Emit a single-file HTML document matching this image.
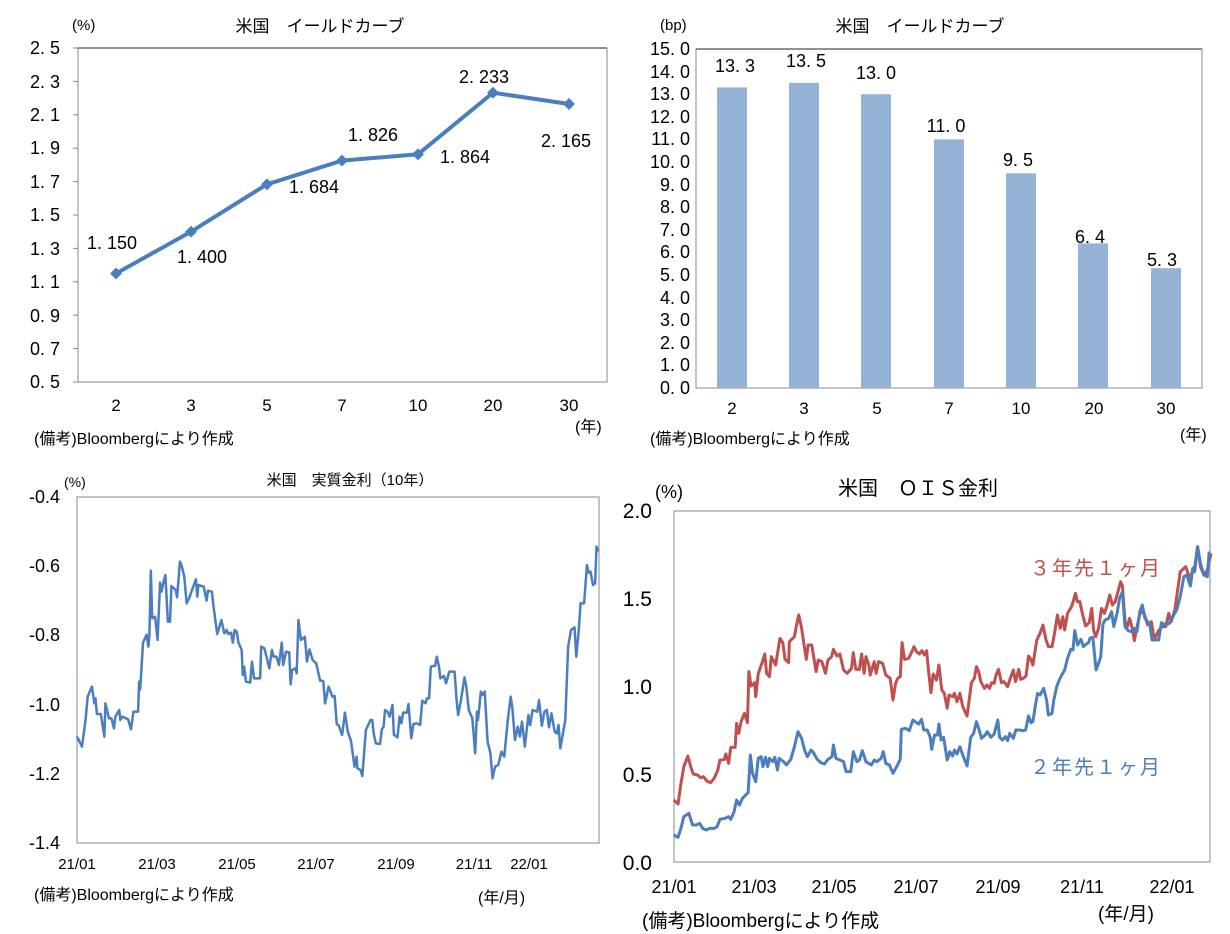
<!DOCTYPE html>
<html><head><meta charset="utf-8"><style>
html,body{margin:0;padding:0;background:#fff;}
svg{display:block;font-family:"Liberation Sans","Noto Sans CJK JP",sans-serif;}
</style></head><body>
<svg width="1230" height="934" viewBox="0 0 1230 934" xmlns="http://www.w3.org/2000/svg">
<!-- Chart 1 -->
<g font-size="18" fill="#000">
<text x="72" y="30" font-size="15">(%)</text>
<text x="320" y="32" font-size="17" text-anchor="middle">米国　イールドカーブ</text>
<rect x="78" y="48" width="529" height="334" fill="none" stroke="#888" stroke-width="1"/>
<line x1="78" y1="48" x2="607" y2="48" stroke="#222"/>
<g text-anchor="end" font-size="18">
<text x="60" y="54">2. 5</text><text x="60" y="88">2. 3</text><text x="60" y="121">2. 1</text>
<text x="60" y="154">1. 9</text><text x="60" y="188">1. 7</text><text x="60" y="221">1. 5</text>
<text x="60" y="255">1. 3</text><text x="60" y="288">1. 1</text><text x="60" y="322">0. 9</text>
<text x="60" y="355">0. 7</text><text x="60" y="388">0. 5</text>
</g>
<g stroke="#888"><line x1="73" y1="48" x2="78" y2="48"/><line x1="73" y1="81.4" x2="78" y2="81.4"/><line x1="73" y1="114.8" x2="78" y2="114.8"/><line x1="73" y1="148.2" x2="78" y2="148.2"/><line x1="73" y1="181.6" x2="78" y2="181.6"/><line x1="73" y1="215" x2="78" y2="215"/><line x1="73" y1="248.4" x2="78" y2="248.4"/><line x1="73" y1="281.8" x2="78" y2="281.8"/><line x1="73" y1="315.2" x2="78" y2="315.2"/><line x1="73" y1="348.6" x2="78" y2="348.6"/><line x1="73" y1="382" x2="78" y2="382"/></g>
<g text-anchor="middle" font-size="17">
<text x="116" y="411">2</text><text x="191" y="411">3</text><text x="267" y="411">5</text><text x="342" y="411">7</text><text x="418" y="411">10</text><text x="493" y="411">20</text><text x="569" y="411">30</text>
</g>
<text x="575" y="432" font-size="16">(年)</text>
<text x="34" y="444" font-size="16">(備考)Bloombergにより作成</text>
<polyline points="116,273.5 191,231.7 267,184.3 342,160.6 418,154.3 493,92.7 569,104" fill="none" stroke="#4a7ebf" stroke-width="4"/>
<g fill="#4a7ebf">
<rect x="-6" y="-6" width="12" height="12" transform="translate(116,273.5) rotate(45) scale(0.7)"/>
<rect x="-6" y="-6" width="12" height="12" transform="translate(191,231.7) rotate(45) scale(0.7)"/>
<rect x="-6" y="-6" width="12" height="12" transform="translate(267,184.3) rotate(45) scale(0.7)"/>
<rect x="-6" y="-6" width="12" height="12" transform="translate(342,160.6) rotate(45) scale(0.7)"/>
<rect x="-6" y="-6" width="12" height="12" transform="translate(418,154.3) rotate(45) scale(0.7)"/>
<rect x="-6" y="-6" width="12" height="12" transform="translate(493,92.7) rotate(45) scale(0.7)"/>
<rect x="-6" y="-6" width="12" height="12" transform="translate(569,104) rotate(45) scale(0.7)"/>
</g>
<g text-anchor="middle" font-size="18">
<text x="112" y="249">1. 150</text><text x="202" y="263">1. 400</text><text x="314" y="193">1. 684</text>
<text x="373" y="141">1. 826</text><text x="465" y="163">1. 864</text><text x="484" y="83">2. 233</text><text x="566" y="147">2. 165</text>
</g>
</g>

<!-- Chart 2 -->
<g font-size="18" fill="#000">
<text x="660" y="30" font-size="15">(bp)</text>
<text x="920" y="32" font-size="17" text-anchor="middle">米国　イールドカーブ</text>
<rect x="696" y="49" width="506" height="339" fill="none" stroke="#888"/>
<line x1="696" y1="49" x2="1202" y2="49" stroke="#222"/>
<g text-anchor="end" font-size="18" id="y2">
<text x="690" y="55">15. 0</text><text x="690" y="78">14. 0</text><text x="690" y="100">13. 0</text><text x="690" y="123">12. 0</text><text x="690" y="145">11. 0</text><text x="690" y="168">10. 0</text><text x="690" y="191">9. 0</text><text x="690" y="213">8. 0</text><text x="690" y="236">7. 0</text><text x="690" y="258">6. 0</text><text x="690" y="281">5. 0</text><text x="690" y="304">4. 0</text><text x="690" y="326">3. 0</text><text x="690" y="349">2. 0</text><text x="690" y="371">1. 0</text><text x="690" y="394">0. 0</text>
</g>
<g fill="#95b3d7">
<rect x="717" y="87.4" width="30" height="300.6"/>
<rect x="789" y="82.9" width="30" height="305.1"/>
<rect x="861" y="94.2" width="30" height="293.8"/>
<rect x="934" y="139.4" width="30" height="248.6"/>
<rect x="1006" y="173.3" width="30" height="214.7"/>
<rect x="1078" y="243.4" width="30" height="144.6"/>
<rect x="1151" y="268.2" width="30" height="119.8"/>
</g>
<g text-anchor="middle" font-size="18">
<text x="735" y="72">13. 3</text><text x="806" y="67">13. 5</text><text x="876" y="79">13. 0</text><text x="946" y="132">11. 0</text><text x="1018" y="166">9. 5</text><text x="1090" y="243">6. 4</text><text x="1162" y="266">5. 3</text>
</g>
<g text-anchor="middle" font-size="17">
<text x="732" y="414">2</text><text x="804" y="414">3</text><text x="877" y="414">5</text><text x="949" y="414">7</text><text x="1021" y="414">10</text><text x="1094" y="414">20</text><text x="1166" y="414">30</text>
</g>
<text x="1180" y="440" font-size="16">(年)</text>
<text x="650" y="444" font-size="16">(備考)Bloombergにより作成</text>
</g>

<!-- Chart 3 -->
<g font-size="18" fill="#000">
<text x="64" y="487" font-size="14">(%)</text>
<text x="350" y="485" font-size="15" text-anchor="middle">米国　実質金利（10年）</text>
<rect x="77" y="497" width="522" height="346" fill="none" stroke="#888"/>
<g text-anchor="end" font-size="18">
<text x="60" y="503">-0.4</text><text x="60" y="572">-0.6</text><text x="60" y="641">-0.8</text><text x="60" y="711">-1.0</text><text x="60" y="780">-1.2</text><text x="60" y="849">-1.4</text>
</g>
<g text-anchor="middle" font-size="15">
<text x="77" y="869">21/01</text><text x="157" y="869">21/03</text><text x="237" y="869">21/05</text><text x="316" y="869">21/07</text><text x="396" y="869">21/09</text><text x="474" y="869">21/11</text><text x="529" y="869">22/01</text>
</g>
<text x="478" y="903" font-size="16">(年/月)</text>
<text x="34" y="900" font-size="16">(備考)Bloombergにより作成</text>
<g transform="translate(60,490) scale(0.35484,0.33333)">
<polyline fill="none" stroke="#4a7ebf" stroke-width="2.5" vector-effect="non-scaling-stroke" stroke-linejoin="round" points="48,740 62,770 72,690 78,620 90,590 97,640 100,625 104,672 115,672 125,740 128,640 138,685 145,685 152,715 156,680 167,660 170,690 176,680 192,688 200,718 207,665 220,665 223,575 226,598 234,458 244,434 249,470 252,435 256,242 260,385 268,380 275,450 282,278 286,305 292,275 297,255 304,395 310,395 314,288 326,300 330,322 338,215 343,228 350,258 357,340 365,322 372,300 383,268 387,320 390,285 405,290 413,332 417,302 428,305 433,352 443,432 455,390 463,430 470,420 474,432 482,428 487,458 492,420 498,425 503,458 512,480 515,555 519,530 524,575 536,578 541,515 547,565 564,565 567,470 576,475 590,535 597,480 602,500 610,500 617,525 625,458 629,525 637,485 646,487 650,583 654,540 663,535 667,550 672,390 679,450 690,440 696,515 703,478 712,510 722,520 733,572 742,573 747,640 757,590 768,620 774,618 780,703 785,705 795,735 803,668 811,725 820,752 830,830 836,800 838,835 847,840 852,858 862,720 875,690 880,690 884,730 890,760 902,762 907,718 912,710 916,660 923,665 929,680 937,645 941,735 951,742 957,680 962,700 967,668 978,668 982,642 990,745 996,702 1005,700 1015,705 1021,632 1030,640 1034,625 1040,625 1045,530 1050,528 1057,528 1062,500 1068,530 1072,565 1082,558 1088,580 1097,545 1112,545 1118,635 1122,675 1130,630 1140,562 1145,590 1152,660 1162,685 1170,790 1175,665 1178,690 1186,605 1190,615 1197,605 1205,755 1213,790 1219,865 1226,830 1235,825 1244,785 1252,800 1262,690 1270,620 1275,655 1282,750 1290,710 1296,740 1302,695 1310,770 1320,675 1325,705 1332,660 1345,665 1350,630 1358,707 1365,665 1372,660 1378,712 1385,670 1394,725 1400,730 1405,705 1410,775 1424,690 1432,470 1440,420 1450,412 1455,500 1462,420 1467,340 1477,340 1485,225 1490,248 1495,245 1502,285 1508,280 1512,170 1516,185"/>
</g>
</g>

<!-- Chart 4 -->
<g font-size="20" fill="#000">
<text x="655" y="498" font-size="18">(%)</text>
<text x="918" y="495" font-size="20" text-anchor="middle">米国　ＯＩＳ金利</text>
<rect x="674" y="511" width="536" height="351" fill="none" stroke="#888"/>
<g text-anchor="end" font-size="21">
<text x="652" y="518">2.0</text><text x="652" y="606">1.5</text><text x="652" y="694">1.0</text><text x="652" y="782">0.5</text><text x="652" y="870">0.0</text>
</g>
<g text-anchor="middle" font-size="18">
<text x="674" y="893">21/01</text><text x="754" y="893">21/03</text><text x="834" y="893">21/05</text><text x="916" y="893">21/07</text><text x="998" y="893">21/09</text><text x="1082" y="893">21/11</text><text x="1172" y="893">22/01</text>
</g>
<text x="1098" y="920" font-size="19">(年/月)</text>
<text x="642" y="927" font-size="19">(備考)Bloombergにより作成</text>
<g transform="translate(660,500) scale(0.36129,0.33333)" fill="none" stroke-width="3" stroke-linejoin="round">
<polyline stroke="#c0504d" vector-effect="non-scaling-stroke" points="38,900 50,912 58,850 66,800 77,768 85,800 92,822 104,825 112,833 120,830 130,843 140,848 150,835 160,810 166,780 178,778 182,762 190,790 196,742 208,742 212,670 218,700 225,663 234,640 242,668 246,515 252,558 262,548 265,590 272,520 282,490 290,462 295,520 303,530 308,470 320,495 332,415 340,428 346,478 356,488 358,425 372,410 378,375 384,345 392,385 398,430 405,478 410,435 420,435 432,515 438,480 448,485 458,520 465,480 475,470 480,448 490,468 498,462 508,510 518,520 530,505 535,458 542,508 552,508 558,462 565,520 570,470 578,495 582,525 593,485 598,520 605,485 616,490 625,525 637,535 645,600 652,550 658,535 665,530 670,428 677,478 688,475 695,460 703,440 710,455 718,462 725,452 732,465 738,452 744,520 750,578 756,522 765,540 772,495 780,570 787,580 795,625 800,585 810,590 815,580 822,605 830,580 838,620 850,648 862,548 870,535 876,500 882,515 888,545 898,565 905,555 912,565 918,548 925,550 930,525 937,508 945,548 952,545 962,560 968,540 978,510 984,545 993,508 998,538 1006,535 1013,528 1020,468 1025,475 1032,495 1043,420 1052,400 1060,375 1068,418 1075,440 1085,440 1092,400 1100,345 1108,385 1115,350 1120,390 1128,340 1140,318 1150,280 1155,305 1162,305 1170,345 1178,378 1188,368 1195,325 1200,390 1206,410 1214,385 1222,325 1230,340 1237,318 1245,285 1252,315 1260,305 1275,245 1280,258 1287,360 1292,385 1300,355 1308,390 1313,422 1320,382 1330,335 1340,340 1350,375 1360,365 1368,418 1380,392 1390,380 1400,380 1408,340 1415,365 1425,330 1440,215 1455,200 1468,240 1475,205 1480,200 1488,140 1496,200 1505,225 1515,210 1525,160"/>
<polyline stroke="#4a7ebf" vector-effect="non-scaling-stroke" points="38,1005 50,1012 58,985 66,950 80,940 90,975 100,975 110,970 118,985 128,990 138,985 150,985 158,980 166,958 180,955 190,950 196,958 205,935 212,900 220,915 228,895 244,878 250,765 256,820 265,845 272,775 280,770 285,800 292,772 298,800 303,775 312,785 318,772 325,810 330,775 342,785 350,795 362,778 372,740 382,695 392,715 400,750 408,770 418,750 425,758 435,778 445,788 455,792 465,778 476,770 480,735 487,775 498,780 508,785 515,815 528,815 535,755 545,785 552,780 560,752 570,785 585,795 593,780 600,785 612,775 618,755 625,790 635,795 645,820 655,800 665,778 668,688 680,685 690,692 700,660 710,668 716,672 724,658 730,690 740,690 748,712 752,748 760,705 768,705 772,672 778,720 785,712 795,780 802,755 810,768 815,750 822,762 830,740 838,765 850,798 860,712 868,700 876,665 882,685 890,715 900,705 906,695 916,712 925,702 935,660 940,712 948,720 956,710 962,722 968,700 978,715 985,690 995,690 1005,692 1012,690 1020,648 1027,668 1032,665 1040,610 1045,580 1052,585 1062,565 1070,600 1075,645 1085,640 1090,600 1098,560 1105,540 1112,525 1120,510 1128,475 1137,448 1143,450 1148,392 1156,435 1165,418 1172,440 1180,432 1186,428 1190,415 1198,412 1207,510 1214,490 1220,470 1226,372 1232,360 1242,355 1250,335 1256,380 1265,340 1272,295 1280,275 1287,380 1296,392 1305,395 1312,385 1320,395 1328,335 1335,315 1342,355 1350,365 1356,375 1362,420 1370,420 1380,420 1388,368 1398,375 1410,370 1420,348 1430,330 1440,290 1450,230 1458,225 1468,258 1475,205 1480,215 1488,140 1496,190 1505,225 1515,230 1520,155"/>
</g>
<text x="1030" y="575" font-size="20" fill="#c0504d" letter-spacing="2">３年先１ヶ月</text>
<text x="1030" y="774" font-size="20" fill="#4a7ebf" letter-spacing="2">２年先１ヶ月</text>
</g>
</svg>
</body></html>
